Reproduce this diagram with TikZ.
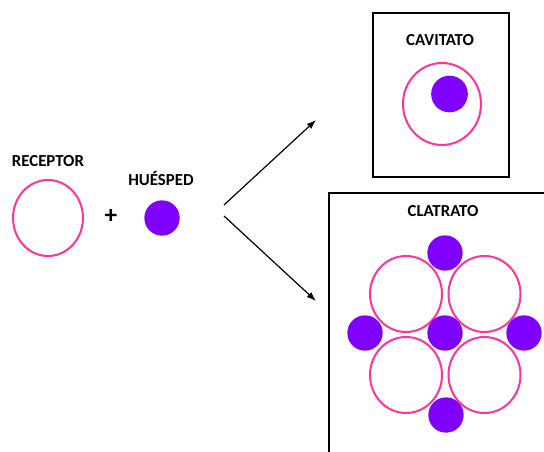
\documentclass[tikz,border=0pt]{standalone}
\usepackage{fontspec}
\setmainfont{Carlito}
\usetikzlibrary{arrows.meta, positioning, shapes.geometric}
\usepackage{xcolor}
\definecolor{hostpink}{RGB}{255,51,153}
\definecolor{guestviolet}{RGB}{128,0,255}

\begin{document}
\begin{tikzpicture}[
x=0.75pt, y=-0.75pt,
host/.style={draw=hostpink,
ellipse,
line width=1.5pt,
inner sep=0pt},
guest/.style={fill=guestviolet,
circle,
inner sep=0pt,
minimum size=26.5pt},
label/.style={font=\bfseries\fontsize{12.6}{14}\selectfont},
frame/.style={draw, line width=2.2pt},
arrow/.style={-{Latex[length=7pt,width=5pt]}, line width=0.9pt}
]

\useasboundingbox (0,0) rectangle (544,452);
\clip (0,0) rectangle (544,452);

% reactants
\node[label] (lrec) at (48,161) {RECEPTOR};
\node[host, minimum width=52.5pt, minimum height=57pt] (rec) at (48,218) {};
\node[font=\bfseries\fontsize{19}{20}\selectfont] (plus) at (111,216) {+};
\node[label] (lgue) at (161,179) {HUÉSPED};
\node[guest] (gue) at (162,218) {};

% arrows
\coordinate (fork1) at (224,205);
\coordinate (fork2) at (224,216);
\coordinate (tocav) at (316,120);
\coordinate (tocla) at (316,301);
\draw[arrow] (fork1) -- (tocav);
\draw[arrow] (fork2) -- (tocla);

% cavitato
\draw[frame] (373,13) rectangle (509,177);
\node[label] (lcav) at (440,40) {CAVITATO};
\node[host, minimum width=58.5pt, minimum height=61.5pt] (cav) at (442,104) {};
\node[guest, minimum size=27.5pt] (cavg) at (449.5,94) {};

% clatrato
\draw[frame] (329,193) rectangle (570,480);
\node[label] (lcla) at (443,211) {CLATRATO};
\node[host, minimum width=54pt, minimum height=57pt] (cla1) at (406,294) {};
\node[host, minimum width=54pt, minimum height=57pt] (cla2) at (484.5,294) {};
\node[host, minimum width=54pt, minimum height=57pt] (cla3) at (406,375) {};
\node[host, minimum width=54pt, minimum height=57pt] (cla4) at (484.5,375) {};
\node[guest] (clag1) at (445,253) {};
\node[guest] (clag2) at (365,333) {};
\node[guest] (clag3) at (445,333) {};
\node[guest] (clag4) at (524,333) {};
\node[guest] (clag5) at (446,415) {};

\end{tikzpicture}
\end{document}
